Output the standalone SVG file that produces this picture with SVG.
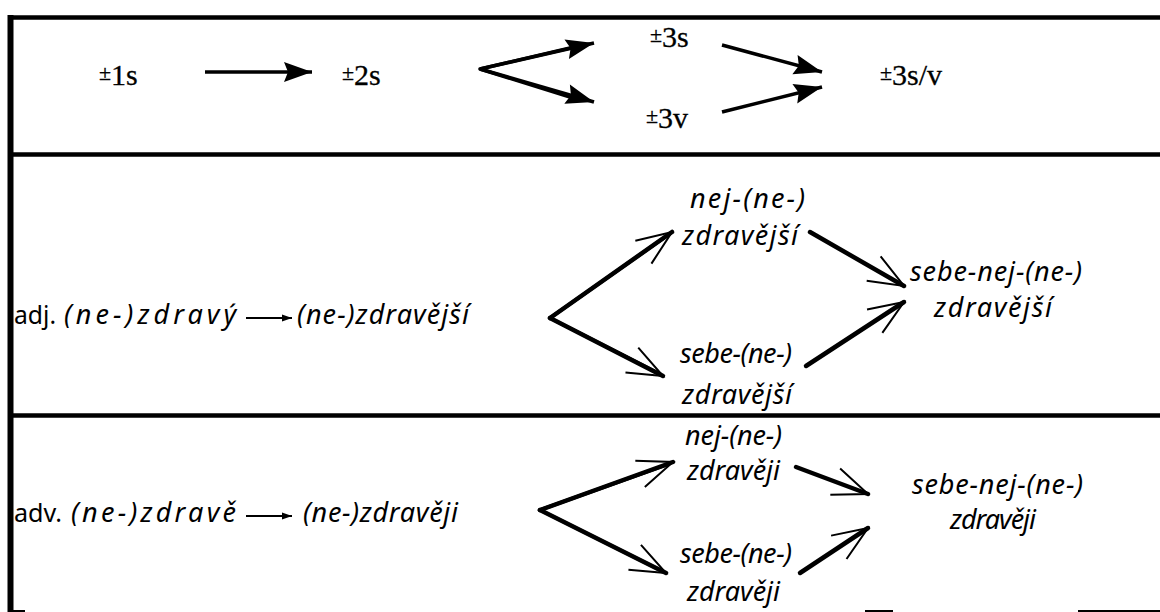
<svg xmlns="http://www.w3.org/2000/svg" width="1160" height="612" viewBox="0 0 1160 612">
  <style>
    .rule { stroke: #000; stroke-width: 4.5; fill: none; }
    .num { font-family: "Liberation Serif", "Times New Roman", serif; font-size: 30px; fill: #000; stroke: #000; stroke-width: 0.3; }
    .pm { font-size: 22px; }
    .it { font-family: "Noto Sans", "Open Sans", sans-serif; font-style: italic; font-size: 27px; fill: #000; }
    .up { font-family: "Noto Sans", "Open Sans", sans-serif; font-size: 26px; fill: #000; }
    .solid { stroke: #000; stroke-width: 3.5; fill: none; marker-end: url(#solidHead); }
    .fork { stroke: #000; stroke-width: 3.5; fill: none; stroke-linejoin: round; stroke-linecap: round; }
    .bold { stroke: #000; stroke-width: 4.5; fill: none; stroke-linecap: round; marker-end: url(#openHead); }
    .thin { stroke: #000; stroke-width: 2; fill: none; marker-end: url(#smallHead); }
  </style>
  <defs>
    <marker id="solidHead" markerUnits="userSpaceOnUse" markerWidth="32" markerHeight="24" viewBox="-30 -12 32 24" refX="0" refY="0" orient="auto">
      <path d="M0,0 L-28,-10 L-24,0 L-28,10 Z" fill="#000"/>
    </marker>
    <marker id="openHead" markerUnits="userSpaceOnUse" markerWidth="44" markerHeight="36" viewBox="-40 -18 44 36" refX="0" refY="0" orient="auto">
      <path d="M-35,-14 L0,0 L-35,14" fill="none" stroke="#000" stroke-width="2"/>
    </marker>
    <marker id="smallHead" markerUnits="userSpaceOnUse" markerWidth="14" markerHeight="10" viewBox="-12 -5 14 10" refX="0" refY="0" orient="auto">
      <path d="M0,0 L-10,-3.5 L-10,3.5 Z" fill="#000"/>
    </marker>
  </defs>

  <!-- frame and row separators -->
  <g id="frame">
    <line class="rule" x1="8" y1="17.5" x2="1160" y2="17.5"/>
    <line class="rule" x1="8" y1="154.5" x2="1160" y2="154.5"/>
    <line class="rule" x1="8" y1="415.5" x2="1160" y2="415.5"/>
    <line x1="10.5" y1="15" x2="10.5" y2="612" stroke="#000" stroke-width="6"/>
    <rect x="13" y="610" width="12" height="2" fill="#000"/>
    <rect x="865" y="610" width="28" height="2" fill="#000"/>
    <rect x="1078" y="610" width="82" height="2" fill="#000"/>
  </g>

  <!-- row 1: degree chain -->
  <g id="n-1s"><text class="num" x="99" y="85"><tspan class="pm" dy="-5">±</tspan><tspan dy="5">1s</tspan></text></g>
  <g id="n-2s"><text class="num" x="342" y="85"><tspan class="pm" dy="-5">±</tspan><tspan dy="5">2s</tspan></text></g>
  <g id="n-3s"><text class="num" x="650" y="47"><tspan class="pm" dy="-5">±</tspan><tspan dy="5">3s</tspan></text></g>
  <g id="n-3v"><text class="num" x="646" y="128"><tspan class="pm" dy="-5">±</tspan><tspan dy="5">3v</tspan></text></g>
  <g id="n-3sv"><text class="num" x="880" y="85"><tspan class="pm" dy="-5">±</tspan><tspan dy="5">3s/v</tspan></text></g>

  <!-- row 2: adjective -->
  <g id="adj-base">
    <text class="up" x="14" y="324" textLength="42" lengthAdjust="spacingAndGlyphs">adj.</text>
    <text class="it" x="64" y="324" textLength="172" lengthAdjust="spacing">(ne-)zdravý</text>
  </g>
  <g id="adj-comp"><text class="it" x="297" y="324" textLength="172" lengthAdjust="spacing">(ne-)zdravější</text></g>
  <g id="adj-sup">
    <text class="it" x="690" y="208" textLength="115" lengthAdjust="spacing">nej-(ne-)</text>
    <text class="it" x="682" y="245" textLength="116" lengthAdjust="spacing">zdravější</text>
  </g>
  <g id="adj-refl">
    <text class="it" x="680" y="363" textLength="112" lengthAdjust="spacing">sebe-(ne-)</text>
    <text class="it" x="682" y="404" textLength="110" lengthAdjust="spacing">zdravější</text>
  </g>
  <g id="adj-refl-sup">
    <text class="it" x="910" y="281" textLength="172" lengthAdjust="spacing">sebe-nej-(ne-)</text>
    <text class="it" x="934" y="317" textLength="118" lengthAdjust="spacing">zdravější</text>
  </g>

  <!-- row 3: adverb -->
  <g id="adv-base">
    <text class="up" x="14" y="522" textLength="48" lengthAdjust="spacingAndGlyphs">adv.</text>
    <text class="it" x="71" y="522" textLength="165" lengthAdjust="spacing">(ne-)zdravě</text>
  </g>
  <g id="adv-comp"><text class="it" x="303" y="522" textLength="155" lengthAdjust="spacing">(ne-)zdravěji</text></g>
  <g id="adv-sup">
    <text class="it" x="685" y="445" textLength="97" lengthAdjust="spacing">nej-(ne-)</text>
    <text class="it" x="687" y="480" textLength="93" lengthAdjust="spacing">zdravěji</text>
  </g>
  <g id="adv-refl">
    <text class="it" x="680" y="563" textLength="112" lengthAdjust="spacing">sebe-(ne-)</text>
    <text class="it" x="687" y="601" textLength="93" lengthAdjust="spacing">zdravěji</text>
  </g>
  <g id="adv-refl-sup">
    <text class="it" x="912" y="494" textLength="171" lengthAdjust="spacing">sebe-nej-(ne-)</text>
    <text class="it" x="950" y="529" textLength="86" lengthAdjust="spacing">zdravěji</text>
  </g>

  <!-- connectors -->
  <g id="connectors">
    <!-- row 1 -->
    <line class="solid" x1="205" y1="72" x2="312" y2="72"/>
    <path class="fork" d="M570,48 L480,69 L570,97"/>
    <line class="solid" x1="480" y1="69" x2="594" y2="43"/>
    <line class="solid" x1="480" y1="69" x2="594" y2="102"/>
    <line class="solid" x1="722" y1="45" x2="822" y2="72"/>
    <line class="solid" x1="722" y1="112" x2="822" y2="87"/>
    <!-- row 2 -->
    <line class="thin" x1="246" y1="318" x2="292" y2="318"/>
    <path class="fork" d="M668,235 L550,318 L660,374" stroke-width="4.5"/>
    <line class="bold" x1="550" y1="318" x2="672" y2="232"/>
    <line class="bold" x1="550" y1="318" x2="663" y2="376"/>
    <line class="bold" x1="810" y1="232" x2="904" y2="286"/>
    <line class="bold" x1="806" y1="366" x2="904" y2="302"/>
    <!-- row 3 -->
    <line class="thin" x1="246" y1="516" x2="292" y2="516"/>
    <path class="fork" d="M669,464 L540,510 L662,571" stroke-width="4.5"/>
    <line class="bold" x1="540" y1="510" x2="673" y2="462"/>
    <line class="bold" x1="540" y1="510" x2="666" y2="573"/>
    <line class="bold" x1="796" y1="467" x2="868" y2="494"/>
    <line class="bold" x1="800" y1="573" x2="868" y2="528"/>
  </g>
</svg>
